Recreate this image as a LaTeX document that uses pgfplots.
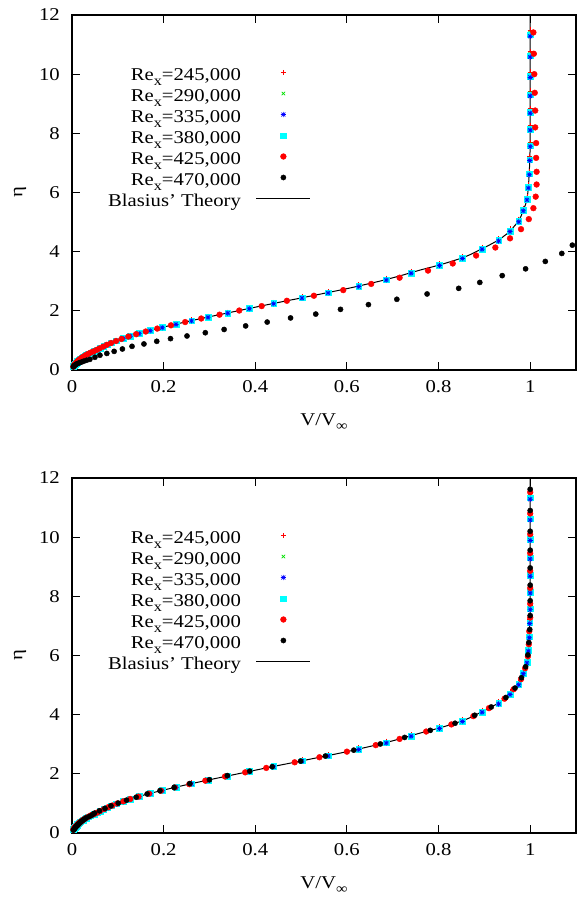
\documentclass[border=0pt]{standalone}
\usepackage{fontspec}
\setmainfont{Liberation Serif}[FakeStretch=1.15]
\usepackage{pgfplots}
\usepackage{pgfplotstable}
\pgfplotsset{compat=1.18}

\definecolor{gpred}{RGB}{255,0,0}
\definecolor{gpgreen}{RGB}{0,225,0}
\definecolor{gpblue}{RGB}{0,0,255}
\definecolor{gpcyan}{RGB}{0,255,255}

\pgfdeclareplotmark{gpstar}{%
  \pgfpathmoveto{\pgfqpoint{-\pgfplotmarksize}{0pt}}\pgfpathlineto{\pgfqpoint{\pgfplotmarksize}{0pt}}%
  \pgfpathmoveto{\pgfqpoint{0pt}{-\pgfplotmarksize}}\pgfpathlineto{\pgfqpoint{0pt}{\pgfplotmarksize}}%
  \pgfpathmoveto{\pgfqpoint{-0.75\pgfplotmarksize}{-0.75\pgfplotmarksize}}\pgfpathlineto{\pgfqpoint{0.75\pgfplotmarksize}{0.75\pgfplotmarksize}}%
  \pgfpathmoveto{\pgfqpoint{-0.75\pgfplotmarksize}{0.75\pgfplotmarksize}}\pgfpathlineto{\pgfqpoint{0.75\pgfplotmarksize}{-0.75\pgfplotmarksize}}%
  \pgfusepathqstroke}

\newcommand{\Rex}[1]{Re\raisebox{-5pt}{\fontsize{14}{14}\selectfont x}=#1}
\newcommand{\bigfont}{\fontsize{18}{18}\selectfont}

% Blasius theory curve: V/Vinf  eta
\pgfplotstableread{
v eta
0.000 0.0
0.003 0.1
0.008 0.2
0.014 0.3
0.021 0.4
0.031 0.5
0.042 0.6
0.055 0.7
0.069 0.8
0.083 0.9
0.099 1.0
0.117 1.1
0.138 1.2
0.161 1.3
0.186 1.4
0.213 1.5
0.241 1.6
0.270 1.7
0.300 1.8
0.331 1.9
0.362 2.0
0.393 2.1
0.424 2.2
0.456 2.3
0.489 2.4
0.521 2.5
0.553 2.6
0.585 2.7
0.615 2.8
0.643 2.9
0.671 3.0
0.696 3.1
0.720 3.2
0.742 3.3
0.765 3.4
0.790 3.5
0.813 3.6
0.834 3.7
0.854 3.8
0.869 3.9
0.882 4.0
0.908 4.2
0.932 4.4
0.949 4.6
0.962 4.8
0.973 5.0
0.980 5.2
0.985 5.4
0.990 5.6
0.993 5.8
0.995 6.0
0.997 6.4
0.999 7.0
1.000 7.6
1.000 12.0
}\theory

% Re_x = 245,000 / 290,000 / 335,000 / 380,000 (same in both panels)
\pgfplotstableread{
v e1 e2 e3 e4
1.000 11.49 11.40 11.28 11.33
1.000 10.77 10.68 10.58 10.62
1.000 10.07 9.99 9.89 9.93
1.000 9.43 9.36 9.26 9.30
1.000 8.83 8.76 8.68 8.71
1.000 8.26 8.19 8.11 8.14
1.000 7.69 7.63 7.55 7.58
0.999 7.21 7.15 7.08 7.11
0.998 6.72 6.67 6.60 6.63
0.996 6.26 6.21 6.15 6.18
0.993 5.85 5.80 5.75 5.77
0.985 5.47 5.43 5.38 5.40
0.975 5.10 5.06 5.01 5.03
0.956 4.77 4.73 4.68 4.70
0.931 4.44 4.41 4.36 4.38
0.895 4.15 4.12 4.08 4.09
0.852 3.84 3.81 3.77 3.78
0.802 3.59 3.56 3.53 3.54
0.740 3.33 3.30 3.27 3.28
0.686 3.10 3.07 3.04 3.05
0.626 2.87 2.85 2.82 2.83
0.559 2.65 2.63 2.60 2.61
0.502 2.47 2.45 2.43 2.44
0.440 2.28 2.26 2.24 2.25
0.387 2.10 2.09 2.07 2.08
0.340 1.95 1.94 1.92 1.93
0.297 1.81 1.80 1.78 1.79
0.261 1.69 1.68 1.66 1.67
0.227 1.57 1.56 1.54 1.55
0.197 1.46 1.45 1.43 1.44
0.171 1.36 1.35 1.33 1.34
0.147 1.25 1.24 1.23 1.24
0.127 1.16 1.15 1.14 1.15
0.112 1.08 1.07 1.06 1.07
0.097 1.00 0.99 0.98 0.99
0.086 0.93 0.92 0.91 0.92
0.077 0.87 0.86 0.85 0.86
0.069 0.81 0.80 0.79 0.80
0.061 0.75 0.74 0.73 0.74
0.055 0.70 0.69 0.68 0.69
0.048 0.65 0.64 0.63 0.64
0.041 0.60 0.59 0.58 0.59
0.036 0.56 0.55 0.54 0.55
0.031 0.52 0.51 0.50 0.51
0.028 0.49 0.48 0.47 0.48
0.024 0.45 0.44 0.43 0.44
0.021 0.42 0.41 0.40 0.41
0.019 0.39 0.38 0.37 0.38
0.017 0.37 0.36 0.35 0.36
0.015 0.34 0.33 0.32 0.33
0.013 0.32 0.31 0.30 0.31
0.012 0.30 0.29 0.28 0.29
0.011 0.28 0.27 0.26 0.27
0.010 0.26 0.25 0.24 0.25
0.009 0.24 0.23 0.22 0.23
0.007 0.22 0.21 0.20 0.21
0.007 0.21 0.20 0.19 0.20
0.006 0.19 0.18 0.17 0.18
0.005 0.18 0.17 0.16 0.17
0.004 0.16 0.15 0.14 0.15
0.004 0.15 0.14 0.13 0.14
0.003 0.13 0.12 0.11 0.12
0.003 0.12 0.11 0.10 0.11
}\sonefour

% Re_x = 425,000, upper panel
\pgfplotstableread{
v eta
1.007 11.41
1.008 10.69
1.009 10.00
1.010 9.37
1.011 8.77
1.011 8.20
1.013 7.67
1.013 7.17
1.014 6.70
1.014 6.27
1.012 5.86
1.007 5.47
0.997 5.10
0.980 4.76
0.956 4.45
0.924 4.14
0.882 3.87
0.831 3.60
0.777 3.36
0.715 3.12
0.653 2.91
0.592 2.70
0.528 2.51
0.469 2.34
0.414 2.16
0.365 2.01
0.322 1.87
0.282 1.74
0.247 1.62
0.216 1.51
0.186 1.40
0.161 1.30
0.140 1.21
0.123 1.13
0.108 1.05
0.096 0.98
0.085 0.91
0.076 0.85
0.068 0.79
0.060 0.73
0.054 0.68
0.047 0.63
0.041 0.59
0.036 0.55
0.031 0.51
0.027 0.47
0.024 0.44
0.021 0.41
0.019 0.38
0.017 0.36
0.015 0.33
0.013 0.31
0.012 0.29
0.011 0.27
0.010 0.25
0.009 0.23
0.007 0.21
0.006 0.19
0.005 0.17
0.004 0.15
0.004 0.13
0.003 0.11
}\redtop

% Re_x = 470,000, upper panel
\pgfplotstableread{
v eta
1.092 4.22
1.069 3.94
1.033 3.67
0.990 3.42
0.939 3.19
0.890 2.96
0.844 2.76
0.775 2.57
0.709 2.39
0.647 2.21
0.586 2.05
0.532 1.89
0.477 1.76
0.426 1.62
0.379 1.49
0.332 1.37
0.291 1.26
0.251 1.15
0.215 1.06
0.185 0.97
0.157 0.88
0.131 0.80
0.110 0.71
0.092 0.63
0.076 0.56
0.061 0.50
0.050 0.43
0.039 0.36
0.032 0.33
0.026 0.30
0.021 0.27
0.017 0.25
0.014 0.23
0.011 0.21
0.009 0.19
0.007 0.17
0.005 0.15
0.004 0.13
0.003 0.11
}\blacktop

% Re_x = 425,000, lower panel
\pgfplotstableread{
v eta
1.000 11.52
1.000 10.80
1.000 10.10
1.000 9.46
1.000 8.86
1.000 8.28
1.000 7.75
1.000 7.28
0.998 6.82
0.997 6.38
0.995 5.97
0.989 5.57
0.980 5.20
0.964 4.86
0.944 4.54
0.910 4.22
0.876 3.95
0.828 3.67
0.773 3.43
0.715 3.18
0.663 2.97
0.600 2.75
0.540 2.56
0.486 2.39
0.424 2.20
0.378 2.05
0.334 1.91
0.291 1.77
0.256 1.65
0.224 1.54
0.194 1.43
0.168 1.33
0.145 1.23
0.127 1.15
0.112 1.07
0.099 1.00
0.088 0.93
0.079 0.87
0.070 0.81
0.061 0.74
0.055 0.69
0.048 0.64
0.042 0.60
0.037 0.56
0.032 0.52
0.028 0.48
0.025 0.45
0.022 0.42
0.020 0.39
0.018 0.37
0.016 0.34
0.014 0.32
0.014 0.30
0.012 0.28
0.011 0.26
0.009 0.23
0.007 0.21
0.006 0.19
0.005 0.17
0.004 0.15
0.004 0.13
0.003 0.11
}\redbot

% Re_x = 470,000, lower panel
\pgfplotstableread{
v eta
1.000 11.62
1.000 10.90
1.000 10.20
1.000 9.56
1.000 8.96
1.000 8.38
1.000 7.85
1.000 7.35
0.999 6.88
0.997 6.44
0.995 6.02
0.990 5.62
0.981 5.25
0.967 4.90
0.947 4.58
0.915 4.26
0.879 3.98
0.836 3.71
0.782 3.47
0.726 3.23
0.673 3.01
0.615 2.80
0.553 2.60
0.499 2.43
0.437 2.24
0.388 2.09
0.339 1.94
0.300 1.80
0.257 1.67
0.223 1.54
0.192 1.43
0.164 1.32
0.140 1.21
0.119 1.11
0.101 1.01
0.085 0.92
0.072 0.83
0.060 0.75
0.049 0.67
0.044 0.61
0.038 0.56
0.031 0.51
0.027 0.47
0.024 0.43
0.021 0.40
0.019 0.37
0.017 0.34
0.015 0.31
0.013 0.29
0.012 0.26
0.010 0.24
0.009 0.22
0.008 0.20
0.007 0.18
0.006 0.16
0.005 0.14
0.004 0.12
0.003 0.10
}\blackbot

\pgfplotsset{
  panel/.style={
    scale only axis, width=504pt, height=355pt,
    xmin=0, xmax=1.1, ymin=0, ymax=12,
    xtick={0,0.2,0.4,0.6,0.8,1}, ytick={0,2,4,6,8,10,12},
    tick align=inside, major tick length=8pt,
    axis line style={line width=1.2pt},
    every tick/.style={black, line width=1pt},
    /pgf/number format/assume math mode=true,
    tick label style={font=\bigfont},
    yticklabel style={inner sep=0pt, xshift=-12pt},
    xticklabel style={inner sep=0pt, yshift=-10pt},
    xlabel={V/V\raisebox{-5pt}{\fontsize{14}{14}\selectfont ∞}},
    ylabel={η},
    label style={font=\bigfont},
    xlabel style={at={(axis description cs:0.5,-0.121)}, anchor=north, inner sep=0pt},
    ylabel style={at={(axis description cs:-0.103,0.5)}, anchor=center, inner sep=0pt},
    legend cell align=right, legend plot pos=right,
    legend style={draw=none, fill=none, at={(0.474,0.8535)}, anchor=north east,
      font=\bigfont, inner sep=0pt, outer sep=0pt, row sep=0pt, column sep=15pt,
      nodes={inner sep=0pt, text height=13pt, text depth=8pt}},
    legend image code/.code={\draw[mark repeat=2,mark phase=2,##1] plot coordinates {(0pt,5pt) (27pt,5pt) (54pt,5pt)};},
  },
  s1/.style={only marks, mark=+, mark size=2.6pt, gpred, line width=0.7pt},
  s2/.style={only marks, mark=x, mark size=2.4pt, gpgreen, line width=0.7pt},
  s3/.style={only marks, mark=gpstar, mark size=2.6pt, gpblue, line width=0.7pt},
  s4/.style={only marks, mark=square*, mark size=2.8pt, draw=gpcyan, fill=gpcyan},
  s5/.style={only marks, mark=*, mark size=2.9pt, draw=gpred, fill=gpred},
  s6/.style={only marks, mark=*, mark size=2.6pt, draw=black, fill=black},
  s7/.style={no marks, black, line width=1pt},
}

\newcommand{\legendall}{%
  \addlegendimage{s1}\addlegendentry{\Rex{245,000}}
  \addlegendimage{s2}\addlegendentry{\Rex{290,000}}
  \addlegendimage{s3}\addlegendentry{\Rex{335,000}}
  \addlegendimage{s4}\addlegendentry{\Rex{380,000}}
  \addlegendimage{s5}\addlegendentry{\Rex{425,000}}
  \addlegendimage{s6}\addlegendentry{\Rex{470,000}}
  \addlegendimage{s7}\addlegendentry{Blasius' Theory}
}

\begin{document}
\begin{tikzpicture}
\useasboundingbox (0pt,0pt) rectangle (578pt,903pt);

\begin{axis}[panel, at={(72pt,533pt)}, anchor=south west]
  \legendall
  \addplot[s1, forget plot] table[x=v, y=e1] {\sonefour};
  \addplot[s2, forget plot] table[x=v, y=e2] {\sonefour};
  \addplot[s4, forget plot] table[x=v, y=e4] {\sonefour};
  \addplot[s3, forget plot] table[x=v, y=e3] {\sonefour};
  \addplot[s5, forget plot] table[x=v, y=eta] {\redtop};
  \addplot[s6, forget plot] table[x=v, y=eta] {\blacktop};
  \addplot[s7, forget plot] table[x=v, y=eta] {\theory};
\end{axis}

\begin{axis}[panel, at={(72pt,70pt)}, anchor=south west]
  \legendall
  \addplot[s1, forget plot] table[x=v, y=e1] {\sonefour};
  \addplot[s2, forget plot] table[x=v, y=e2] {\sonefour};
  \addplot[s4, forget plot] table[x=v, y=e4] {\sonefour};
  \addplot[s3, forget plot] table[x=v, y=e3] {\sonefour};
  \addplot[s5, forget plot] table[x=v, y=eta] {\redbot};
  \addplot[s6, forget plot] table[x=v, y=eta] {\blackbot};
  \addplot[s7, forget plot] table[x=v, y=eta] {\theory};
\end{axis}
\end{tikzpicture}
\end{document}
